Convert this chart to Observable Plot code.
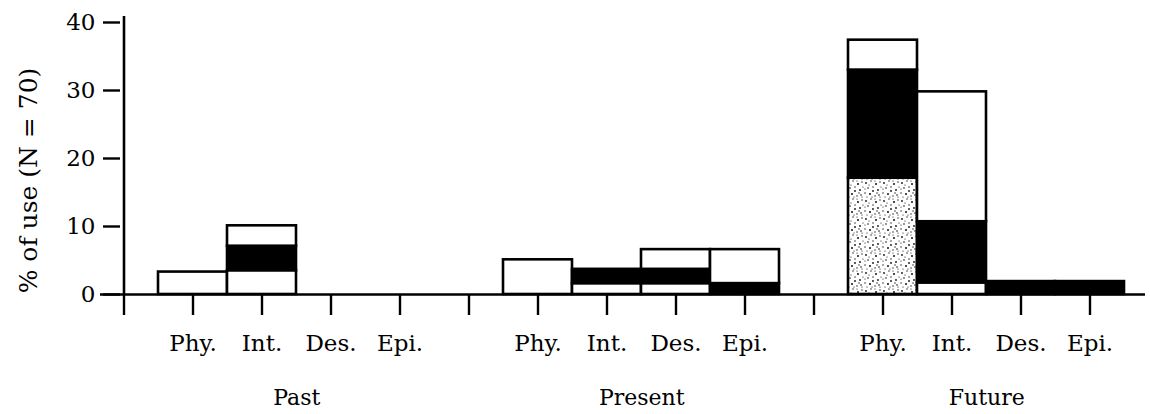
<!DOCTYPE html>
<html>
<head>
<meta charset="utf-8">
<script src="https://cdn.jsdelivr.net/npm/d3@7"></script>
<script src="https://cdn.jsdelivr.net/npm/@observablehq/plot@0.6"></script>
<style>
  body { margin: 0; background: #fff; }
</style>
</head>
<body>
<div id="chart"></div>
<script>
// ---- data ----
const groups = ["Past", "Present", "Future"];
const categories = ["Phy.", "Int.", "Des.", "Epi."];
const seriesNames = ["Stippled", "White (lower)", "Black", "White (upper)"];
const seriesFills = ["url(#stipple)", "white", "black", "white"];
// values in order: Past Phy/Int/Des/Epi, Present Phy/Int/Des/Epi, Future Phy/Int/Des/Epi (% of use)
const stippled   = [0, 0, 0, 0,    0, 0, 0, 0,        17.1, 0, 0, 0];
const whiteLower = [3.3, 3.5, 0, 0, 5.1, 1.6, 1.6, 0,  0, 1.7, 0, 0];
const black      = [0, 3.6, 0, 0,  0, 2.1, 2.1, 1.6,   15.9, 9.0, 1.9, 1.9];
const whiteUpper = [0, 3.0, 0, 0,  0, 0, 2.9, 5.0,     4.4, 19.1, 0, 0];
const yTicks = [0, 10, 20, 30, 40];
const yLabel = "% of use (N = 70)";

const seriesValues = [stippled, whiteLower, black, whiteUpper];

// slots along the x axis: axis slot, then groups separated by empty slots
const slots = ["gap0"];
groups.forEach((g, i) => {
  if (i > 0) slots.push("gap" + i);
  categories.forEach(c => slots.push(g + "|" + c));
});

const data = [];
seriesNames.forEach((s, si) => {
  groups.forEach((g, gi) => {
    categories.forEach((c, ci) => {
      const v = seriesValues[si][gi * categories.length + ci];
      if (v > 0) data.push({slot: g + "|" + c, series: s, value: v});
    });
  });
});

const stroke = 2.6;

const chart = Plot.plot({
  width: 1150,
  height: 414,
  marginLeft: 120,
  marginRight: 5,
  marginTop: 22,
  marginBottom: 120,
  style: {fontFamily: "'DejaVu Serif', serif", color: "black", background: "white"},
  x: {type: "band", domain: slots, range: [85.25, 1127.75], padding: 0},
  y: {domain: [0, 40]},
  color: {type: "ordinal", domain: seriesNames, range: seriesFills},
  marks: [
    Plot.barY(data, {x: "slot", y: "value", fill: "series", stroke: "black", strokeWidth: stroke}),
    Plot.ruleY([0], {strokeWidth: stroke, insetLeft: -20}),
    Plot.ruleX(["gap0"], {strokeWidth: stroke, insetTop: -6}),
    Plot.axisX({
      tickSize: 21, tickPadding: 19, fontSize: 23, strokeWidth: 2.4, label: null,
      tickFormat: d => d.startsWith("gap") ? "" : d.split("|")[1]
    }),
    Plot.axisX({
      ticks: groups.map(g => g + "|Int."), tickSize: 0, tickPadding: 95, dx: 34.75,
      fontSize: 22, label: null, tickFormat: d => d.split("|")[0]
    }),
    Plot.axisY({ticks: yTicks, tickSize: 17, tickPadding: 8, fontSize: 23, strokeWidth: 2.4, label: null}),
    Plot.text([yLabel], {text: d => d, frameAnchor: "left", textAnchor: "middle", dx: -91.7, dy: 22, rotate: -90, fontSize: 25})
  ]
});

// stipple pattern used as the fill of the first series
const dots = [[2,3,0.9],[7,1,0.7],[12,4,1.0],[16,2,0.7],[4,8,0.8],[9,7,0.7],[14,10,0.9],
              [1,13,0.7],[6,14,1.0],[11,16,0.7],[15,15,0.8],[9,11,0.9],[3,17,0.6],[17,7,0.6],
              [5,5,0.6],[13,13,0.7],[8,17,0.6],[1,9,0.6],[11,1,0.6],[16,17,0.6]];
const defs = `<defs><pattern id="stipple" width="18" height="18" patternUnits="userSpaceOnUse">
  <rect width="18" height="18" fill="white"/>
  ${dots.map(([x, y, r]) => `<circle cx="${x}" cy="${y}" r="${r}" fill="#111"/>`).join("")}
</pattern></defs>`;
chart.insertAdjacentHTML("afterbegin", defs);

document.getElementById("chart").appendChild(chart);
</script>
</body>
</html>
